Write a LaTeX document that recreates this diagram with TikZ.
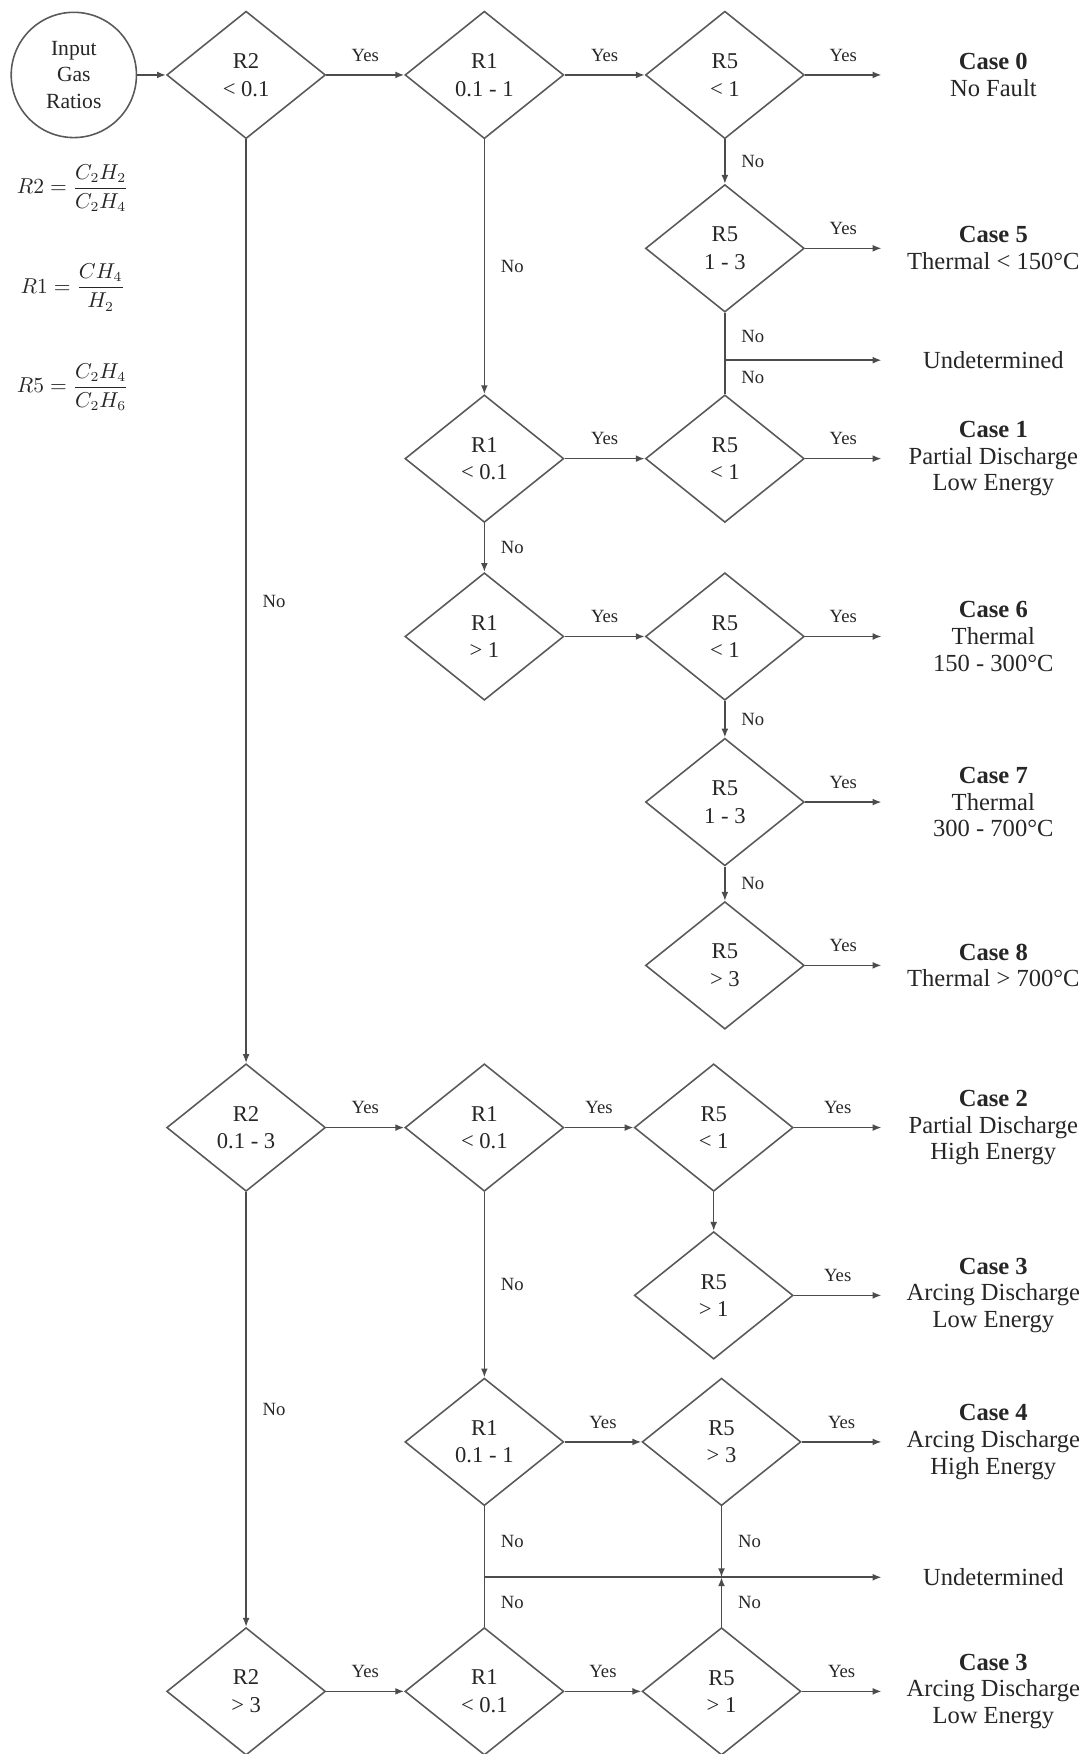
\documentclass[tikz,border=0pt]{standalone}
\usepackage{amsmath}
\usepackage{fontspec}
\setmainfont{Liberation Serif}
\usetikzlibrary{shapes.geometric,arrows.meta}

\begin{document}
\begin{tikzpicture}[x=0.02cm, y=-0.02cm,
    every node/.style={text=black!85},
    test/.style={diamond, draw=black!65, line width=0.8pt, aspect=1.25, inner sep=0pt,
        minimum width=2.84cm, minimum height=2.28cm, align=center,
        font=\fontsize{11.5}{14}\selectfont},
    result/.style={align=center, minimum width=4cm, inner sep=0pt, outer sep=0pt,
        font=\fontsize{12.5}{13.6}\selectfont},
    flow/.style={draw=black!70, line width=0.8pt, -{Latex[length=4.5pt,width=3.5pt]}},
    link/.style={draw=black!70, line width=0.8pt},
    yeslbl/.style={midway, above=6.5pt, inner sep=0pt, font=\fontsize{9.5}{11}\selectfont},
    nolbl/.style={midway, right=8pt, inner sep=0pt, font=\fontsize{9.5}{11}\selectfont}]

    \useasboundingbox (0,0) rectangle (972,1568);

    % Input and ratio definitions
    \node[circle, draw=black!65, line width=0.8pt, minimum size=2.24cm, inner sep=0pt,
        align=center, font=\fontsize{11}{13.5}\selectfont] (input) at (66,67) {Input\\Gas\\Ratios};
    \node[font=\fontsize{10.5}{12}\selectfont] (defR2) at (65,168) {$R2=\dfrac{C_2H_2}{C_2H_4}$};
    \node[font=\fontsize{10.5}{12}\selectfont] (defR1) at (65,257) {$R1=\dfrac{CH_4}{H_2}$};
    \node[font=\fontsize{10.5}{12}\selectfont] (defR5) at (65,346) {$R5=\dfrac{C_2H_4}{C_2H_6}$};

    % Decisions, R2 < 0.1 branch
    \node[test] (r2a) at (220,67) {R2\\< 0.1};
    \node[test] (r1a) at (433,67) {R1\\0.1 - 1};
    \node[test] (r5a) at (648,67) {R5\\< 1};
    \node[test] (r5b) at (648,222) {R5\\1 - 3};
    \node[test] (r1b) at (433,410) {R1\\< 0.1};
    \node[test] (r5c) at (648,410) {R5\\< 1};
    \node[test] (r1c) at (433,569) {R1\\> 1};
    \node[test] (r5d) at (648,569) {R5\\< 1};
    \node[test] (r5e) at (648,717) {R5\\1 - 3};
    \node[test] (r5f) at (648,863) {R5\\> 3};

    % Decisions, R2 0.1 - 3 and R2 > 3 branches
    \node[test] (r2b) at (220,1008) {R2\\0.1 - 3};
    \node[test] (r1d) at (433,1008) {R1\\< 0.1};
    \node[test] (r5g) at (638,1008) {R5\\< 1};
    \node[test] (r5h) at (638,1158) {R5\\> 1};
    \node[test] (r1e) at (433,1289) {R1\\0.1 - 1};
    \node[test] (r5i) at (645,1289) {R5\\> 3};
    \node[test] (r2c) at (220,1512) {R2\\> 3};
    \node[test] (r1f) at (433,1512) {R1\\< 0.1};
    \node[test] (r5j) at (645,1512) {R5\\> 1};

    % Results
    \node[result] (case0) at (888,67) {\textbf{Case 0}\\No Fault};
    \node[result] (case5) at (888,222) {\textbf{Case 5}\\Thermal < 150°C};
    \node[result] (undA) at (888,322) {Undetermined};
    \node[result] (case1) at (888,410) {\textbf{Case 1}\\Partial Discharge\\Low Energy};
    \node[result] (case6) at (888,569) {\textbf{Case 6}\\Thermal\\150 - 300°C};
    \node[result] (case7) at (888,717) {\textbf{Case 7}\\Thermal\\300 - 700°C};
    \node[result] (case8) at (888,863) {\textbf{Case 8}\\Thermal > 700°C};
    \node[result] (case2) at (888,1008) {\textbf{Case 2}\\Partial Discharge\\High Energy};
    \node[result] (case3a) at (888,1158) {\textbf{Case 3}\\Arcing Discharge\\Low Energy};
    \node[result] (case4) at (888,1289) {\textbf{Case 4}\\Arcing Discharge\\High Energy};
    \node[result] (undB) at (888,1410) {Undetermined};
    \node[result] (case3b) at (888,1512) {\textbf{Case 3}\\Arcing Discharge\\Low Energy};

    % Junctions
    \coordinate (jA) at (648,322);
    \coordinate (jB) at (433,1410);
    \coordinate (jC) at (645,1410);

    % Yes paths
    \draw[flow] (input) -- (r2a);
    \foreach \a/\b in {r2a/r1a, r1a/r5a, r5a/case0, r5b/case5, r1b/r5c, r5c/case1,
        r1c/r5d, r5d/case6, r5e/case7, r5f/case8, r2b/r1d, r1d/r5g, r5g/case2,
        r5h/case3a, r1e/r5i, r5i/case4, r2c/r1f, r1f/r5j, r5j/case3b}
        \draw[flow] (\a) -- node[yeslbl] {Yes} (\b);

    % No paths
    \foreach \a/\b in {r5a/r5b, r1a/r1b, r1b/r1c, r5d/r5e, r5e/r5f, r2a/r2b,
        r2b/r2c, r1d/r1e, r5i/jC, r5j/jC}
        \draw[flow] (\a) -- node[nolbl] {No} (\b);
    \draw[flow] (r5g) -- (r5h);
    \foreach \a/\b in {r5b/jA, r5c/jA, r1e/jB, r1f/jB}
        \draw[link] (\a) -- node[nolbl] {No} (\b);
    \draw[flow] (jA) -- (undA);
    \draw[flow] (jB) -- (undB);

\end{tikzpicture}
\end{document}
